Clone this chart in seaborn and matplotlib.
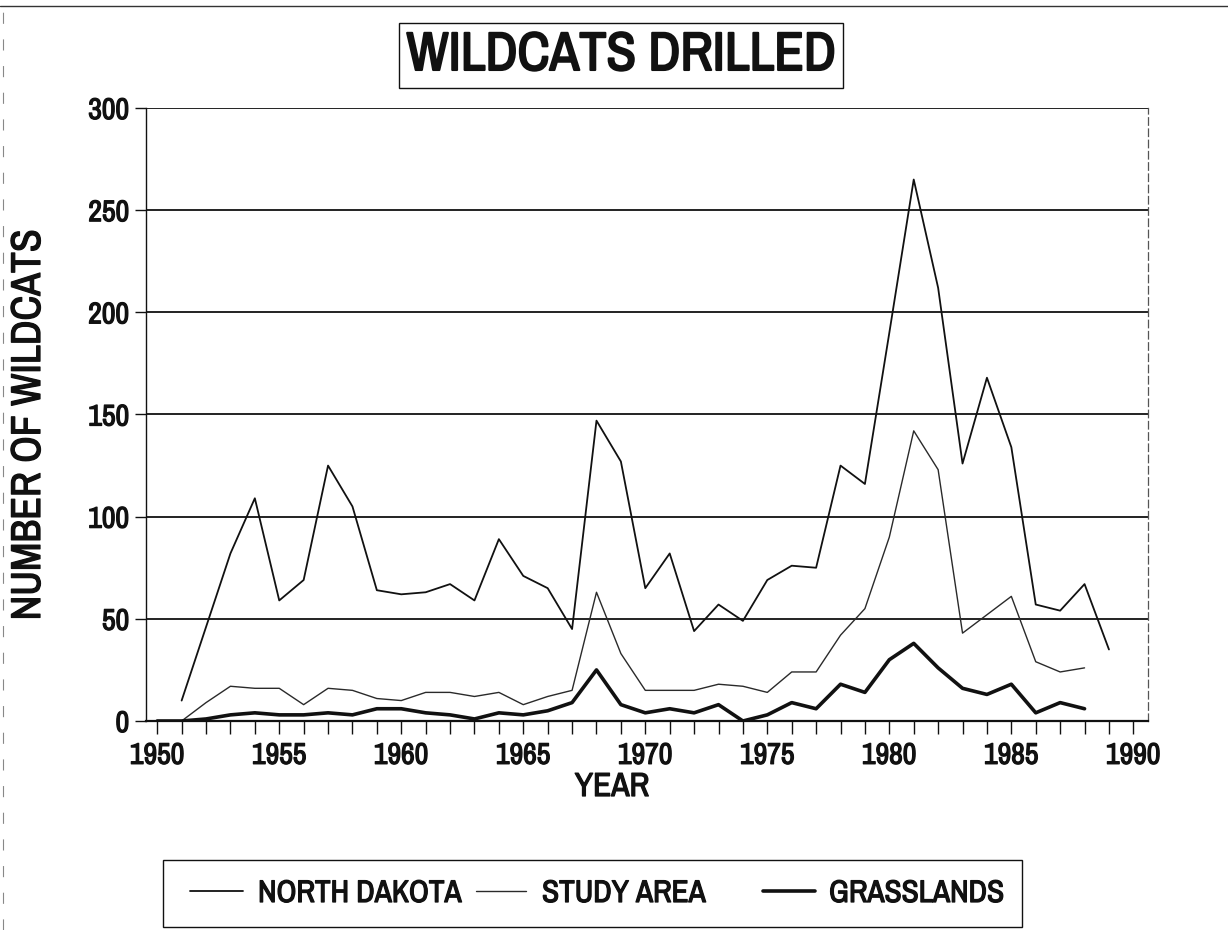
import numpy as np
import pandas as pd
import matplotlib
matplotlib.use("Agg")
import matplotlib.pyplot as plt
import matplotlib.font_manager as fm
import matplotlib.patheffects as pe
import seaborn as sns
from matplotlib.lines import Line2D
from matplotlib.patches import Rectangle
from matplotlib.ticker import MultipleLocator

# ---- data ----
years_nd = list(range(1951, 1990))
north_dakota = [10, 46, 82, 109, 59, 69, 125, 105, 64, 62, 63, 67, 59, 89, 71, 65, 45,
                147, 127, 65, 82, 44, 57, 49, 69, 76, 75, 125, 116, 190, 265, 212, 126,
                168, 134, 57, 54, 67, 35]
years_sa = list(range(1950, 1989))
study_area = [0, 0, 9, 17, 16, 16, 8, 16, 15, 11, 10, 14, 14, 12, 14, 8, 12, 15, 63, 33,
              15, 15, 15, 18, 17, 14, 24, 24, 42, 55, 90, 142, 123, 43, 52, 61, 29, 24, 26]
years_gr = list(range(1950, 1989))
grasslands = [0, 0, 1, 3, 4, 3, 3, 4, 3, 6, 6, 4, 3, 1, 4, 3, 5, 9, 25, 8, 4, 6, 4, 8, 0,
              3, 9, 6, 18, 14, 30, 38, 26, 16, 13, 18, 4, 9, 6]
series_names = ["NORTH DAKOTA", "STUDY AREA", "GRASSLANDS"]
x_ticks = [1950, 1955, 1960, 1965, 1970, 1975, 1980, 1985, 1990]
y_ticks = [0, 50, 100, 150, 200, 250, 300]

INK = "#111111"

sns.set_style("white")

# choose a narrow face (the reference uses a condensed grotesque)
names = {f.name for f in fm.fontManager.ttflist}
FAM, SCALE = "Liberation Sans", 0.86
for cand in ["Archivo Narrow", "Liberation Sans Narrow", "Arial Narrow",
             "Roboto Condensed", "Barlow Condensed"]:
    if cand in names:
        FAM, SCALE = cand, 1.0
        break
FONT = [FAM, "Liberation Sans", "DejaVu Sans"]
plt.rcParams["font.family"] = FONT

HEAVY = [pe.withStroke(linewidth=0.9, foreground=INK)]
HEAVY_BIG = [pe.withStroke(linewidth=1.5, foreground=INK)]

W, H = 1228, 930
fig = plt.figure(figsize=(W / 100, H / 100), dpi=100)
ax = fig.add_axes([146 / W, 1 - 721 / H, (1148 - 146) / W, (721 - 108) / H])

df_nd = pd.DataFrame({"year": years_nd, "n": north_dakota})
df_sa = pd.DataFrame({"year": years_sa, "n": study_area})
df_gr = pd.DataFrame({"year": years_gr, "n": grasslands})

for v in y_ticks[1:]:
    ax.axhline(v, color=INK, lw=1.3, zorder=1)

sns.lineplot(data=df_nd, x="year", y="n", ax=ax, color=INK, lw=1.3, zorder=3)
sns.lineplot(data=df_sa, x="year", y="n", ax=ax, color="#2a2a2a", lw=1.0, zorder=3)
sns.lineplot(data=df_gr, x="year", y="n", ax=ax, color=INK, lw=2.6, zorder=4)

ax.set_xlim(1949.54, 1990.6)
ax.set_ylim(0, 300)
ax.set_xticks(x_ticks)
ax.set_xticklabels([str(t) for t in x_ticks])
ax.xaxis.set_minor_locator(MultipleLocator(1))
ax.set_yticks(y_ticks)
ax.set_yticklabels([str(t) for t in y_ticks])

tick_fs = 21.5 * SCALE
ax.tick_params(axis="x", which="both", direction="out", length=9, width=1.0,
               color=INK, labelsize=tick_fs, pad=6, labelcolor=INK, bottom=True)
ax.tick_params(axis="y", which="major", direction="out", length=8, width=1.0,
               color=INK, labelsize=tick_fs, pad=4, labelcolor=INK, left=True)
for lab in ax.get_xticklabels() + ax.get_yticklabels():
    lab.set_path_effects(HEAVY)

ax.spines["left"].set_color(INK)
ax.spines["left"].set_linewidth(1.0)
ax.spines["bottom"].set_color(INK)
ax.spines["bottom"].set_linewidth(1.6)
ax.spines["top"].set_visible(False)
ax.spines["right"].set_color("#555555")
ax.spines["right"].set_linewidth(0.9)
ax.spines["right"].set_linestyle((0, (6, 3)))

ax.set_xlabel("YEAR", fontsize=24 * SCALE, color=INK, path_effects=HEAVY)
ax.set_ylabel("NUMBER OF WILDCATS", fontsize=30 * SCALE, color=INK, path_effects=HEAVY)
ax.xaxis.set_label_coords((612 - 146) / 1002, (721 - 772) / 613)
ax.yaxis.set_label_coords((47 - 146) / 1002, (721 - 425) / 613)

fig.text(621 / W, 1 - 55 / H, "WILDCATS DRILLED", ha="center", va="center",
         fontsize=39 * SCALE, color=INK, path_effects=HEAVY_BIG)
fig.patches.append(Rectangle((399 / W, 1 - 88 / H), 444 / W, 65 / H,
                             transform=fig.transFigure, fill=False, ec=INK, lw=1.0))

leg_specs = [
    (190, 53, 15, 1.3, "#111111"),
    (476, 50, 16, 1.0, "#2a2a2a"),
    (763, 52, 14, 2.6, "#111111"),
]
fs = 22.5 * SCALE
px_per_em = fs * 100 / 72
for name, (x0, hl, gap, lw, col) in zip(series_names, leg_specs):
    h = Line2D([], [], color=col, lw=lw)
    lg = fig.legend([h], [name], loc="center left",
                    bbox_to_anchor=(x0 / W, 1 - 893 / H), frameon=False,
                    borderpad=0, borderaxespad=0, handlelength=hl / px_per_em,
                    handletextpad=gap / px_per_em,
                    prop={"family": FONT, "size": fs})
    for t in lg.get_texts():
        t.set_color(INK)
        t.set_path_effects(HEAVY)
fig.patches.append(Rectangle((163 / W, 1 - 927 / H), (1022 - 163) / W, (927 - 860) / H,
                             transform=fig.transFigure, fill=False, ec=INK, lw=1.0))

fig.add_artist(Line2D([0, 1], [1 - 6 / H, 1 - 6 / H], transform=fig.transFigure,
                      color="#333333", lw=1.0))
fig.add_artist(Line2D([3 / W, 3 / W], [0, 1], transform=fig.transFigure,
                      color="#888888", lw=0.8, ls=(0, (10, 14))))

fig.savefig("out.png", dpi=100, facecolor="white")
